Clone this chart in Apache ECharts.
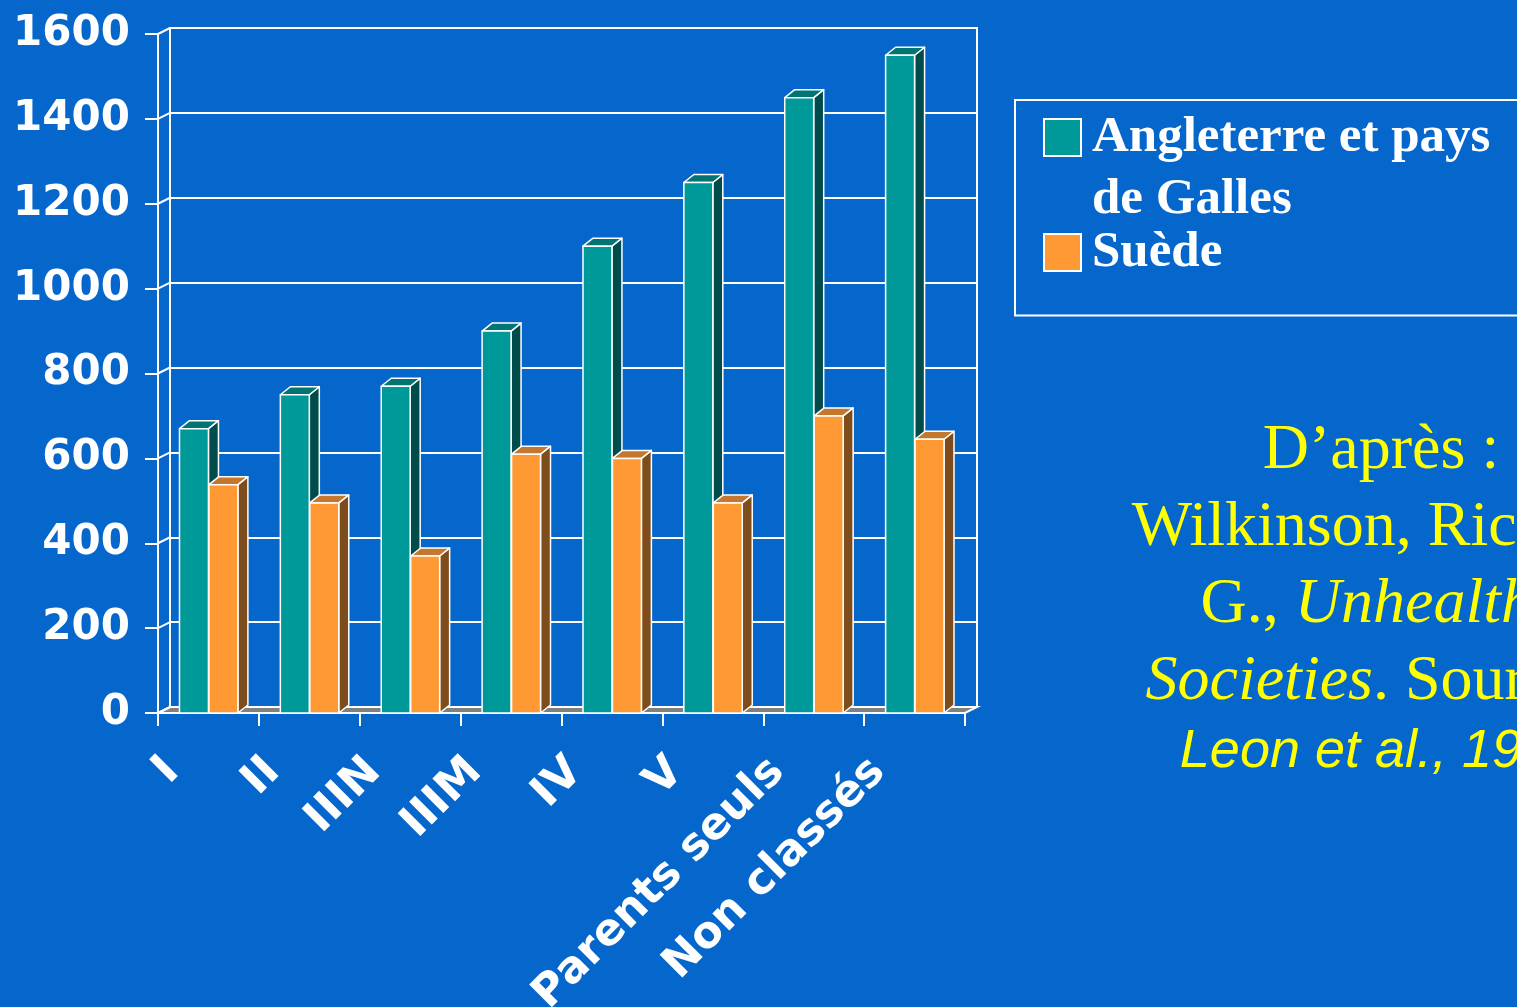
<!DOCTYPE html>
<html><head><meta charset="utf-8">
<script src="https://cdn.jsdelivr.net/npm/echarts@6/dist/echarts.min.js"></script>
<style>html,body{margin:0;padding:0;background:#0566cc;}#c{width:1517px;height:1007px;}</style>
</head><body><div id="c"></div>
<script>
// ---- data ----
const categories = ['I', 'II', 'IIIN', 'IIIM', 'IV', 'V', 'Parents seuls', 'Non classés'];
const englandWales = [670, 750, 770, 900, 1100, 1250, 1450, 1550];
const sweden = [538, 495, 370, 610, 600, 495, 700, 645];
const yTicks = [0, 200, 400, 600, 800, 1000, 1200, 1400, 1600];
const seriesNames = ['Angleterre et pays de Galles', 'Suède'];
const citationLines = [
  '{n|D’après :}',
  '{n|Wilkinson, Richard}',
  '{n|G., }{i|Unhealthy}',
  '{i|Societies}{n|. Source :}',
  '{s|Leon et al., 1992}'
];

// ---- style constants ----
const BG = '#0566cc';
const WALL_DX = 12, WALL_DY = 6;     // depth of back wall
const BAR_DX = 10, BAR_DY = 8;       // depth of bars
const BAR_FRAC = 0.287;              // bar width / band width
const COLORS = [
  { front: '#009999', side: '#004c4c', top: '#007573' },
  { front: '#ff9933', side: '#7f4c1b', top: '#c4772e' }
];
const FRONT = { left: 158, top: 34, width: 807, height: 679 };

function barRenderer(k) {
  return function (params, api) {
    const i = api.value(0), v = api.value(1);
    const t = api.coord([i, v]);
    const b = api.coord([i, 0]);
    const band = api.size([1, 0])[0];
    const bw = band * BAR_FRAC;
    const x0 = k === 0 ? t[0] - bw : t[0] + 0.5;
    const x1 = x0 + bw;
    const st = { stroke: '#ffffff', lineWidth: 1.5, lineJoin: 'round' };
    const c = COLORS[k];
    return {
      type: 'group',
      children: [
        { type: 'polygon', shape: { points: [[x1, t[1]], [x1 + BAR_DX, t[1] - BAR_DY], [x1 + BAR_DX, b[1] - BAR_DY], [x1, b[1]]] },
          style: Object.assign({ fill: c.side }, st) },
        { type: 'polygon', shape: { points: [[x0, t[1]], [x0 + BAR_DX, t[1] - BAR_DY], [x1 + BAR_DX, t[1] - BAR_DY], [x1, t[1]]] },
          style: Object.assign({ fill: c.top }, st) },
        { type: 'rect', shape: { x: x0, y: t[1], width: bw, height: b[1] - t[1] },
          style: Object.assign({ fill: c.front }, st) }
      ]
    };
  };
}

const chart = echarts.init(document.getElementById('c'), null, { renderer: 'canvas' });
const option = {
  backgroundColor: BG,
  animation: false,
  grid: [
    { left: FRONT.left, top: FRONT.top, width: FRONT.width, height: FRONT.height, outerBoundsMode: 'none', show: false },
    { left: FRONT.left + WALL_DX, top: FRONT.top - WALL_DY, width: FRONT.width, height: FRONT.height, outerBoundsMode: 'none',
      show: true, borderColor: '#ffffff', borderWidth: 2, backgroundColor: 'transparent' }
  ],
  xAxis: [
    { type: 'category', gridIndex: 0, data: categories, boundaryGap: true,
      axisLine: { show: true, lineStyle: { color: '#ffffff', width: 2 } },
      axisTick: { show: true, length: 13, lineStyle: { color: '#ffffff', width: 2 } },
      axisLabel: { interval: 0, rotate: 45, margin: 16, padding: [0, 51, 0, 0], color: '#ffffff',
        fontFamily: 'DejaVu Sans', fontWeight: 'bold', fontSize: 44 },
      splitLine: { show: false } },
    { type: 'category', gridIndex: 1, data: categories, boundaryGap: true,
      axisLine: { show: false }, axisTick: { show: false }, axisLabel: { show: false }, splitLine: { show: false } }
  ],
  yAxis: [
    { type: 'value', gridIndex: 0, min: 0, max: 1600, interval: 200,
      axisLine: { show: true, lineStyle: { color: '#ffffff', width: 2 } },
      axisTick: { show: true, length: 13, lineStyle: { color: '#ffffff', width: 2 } },
      axisLabel: { margin: 28, color: '#ffffff', fontFamily: 'DejaVu Sans', fontWeight: 'bold', fontSize: 42,
        padding: [0, 0, 5, 0], formatter: v => yTicks.includes(v) ? String(v) : '' },
      splitLine: { show: false } },
    { type: 'value', gridIndex: 1, min: 0, max: 1600, interval: 200,
      axisLine: { show: false }, axisTick: { show: false }, axisLabel: { show: false },
      splitLine: { show: true, lineStyle: { color: '#ffffff', width: 2 } } }
  ],
  legend: {
    orient: 'vertical', left: 1015, top: 100,
    padding: [4.5, 90, 0, 28],
    itemWidth: 37, itemHeight: 124, itemGap: -43,
    borderColor: '#ffffff', borderWidth: 2,
    selectedMode: false,
    data: [
      { name: seriesNames[0], icon: 'path://M0,12.5L37,12.5L37,49.5L0,49.5Z M0,0 M37,124' },
      { name: seriesNames[1], icon: 'path://M0,43.5L37,43.5L37,80.5L0,80.5Z M0,0 M37,124' }
    ],
    formatter: name => name === seriesNames[0] ? 'Angleterre et pays\nde Galles' : name,
    itemStyle: { borderColor: '#ffffff', borderWidth: 2 },
    textStyle: { color: '#ffffff', fontFamily: 'Liberation Serif', fontWeight: 'bold', fontSize: 51, lineHeight: 62, padding: [4, 0, 0, 6] }
  },
  graphic: [
    { type: 'text', x: 1381, y: 413, silent: true,
      style: {
        text: citationLines.join('\n'),
        align: 'center', verticalAlign: 'top',
        fill: '#ffff00',
        font: '64px "Liberation Serif"',
        rich: {
          n: { fontFamily: 'Liberation Serif', fontSize: 64, lineHeight: 77, fill: '#ffff00', color: '#ffff00', align: 'center' },
          i: { fontFamily: 'Liberation Serif', fontStyle: 'italic', fontSize: 64, lineHeight: 77, fill: '#ffff00', color: '#ffff00', align: 'center' },
          s: { fontFamily: 'Liberation Sans', fontStyle: 'italic', fontSize: 54, lineHeight: 62, fill: '#ffff00', color: '#ffff00', align: 'center' }
        }
      } }
  ],
  series: [
    { // floor
      type: 'custom', xAxisIndex: 0, yAxisIndex: 0, z: 1, silent: true,
      data: [[0, 0]],
      renderItem: function (params, api) {
        const band = api.size([1, 0])[0];
        const a = api.coord([0, 0]);
        const z = api.coord([categories.length - 1, 0]);
        const l = a[0] - band / 2, r = z[0] + band / 2, y = a[1];
        return { type: 'polygon', shape: { points: [[l, y], [r, y], [r + WALL_DX, y - WALL_DY], [l + WALL_DX, y - WALL_DY]] },
          style: { fill: '#808080', stroke: '#ffffff', lineWidth: 2 } };
      }
    },
    { // depth connectors at y ticks
      type: 'custom', xAxisIndex: 0, yAxisIndex: 0, z: 1, silent: true,
      data: yTicks.map(v => [0, v]),
      renderItem: function (params, api) {
        const band = api.size([1, 0])[0];
        const p = api.coord([0, api.value(1)]);
        const l = p[0] - band / 2;
        return { type: 'line', shape: { x1: l, y1: p[1], x2: l + WALL_DX, y2: p[1] - WALL_DY },
          style: { stroke: '#ffffff', lineWidth: 2 } };
      }
    },
    { name: seriesNames[0], type: 'custom', xAxisIndex: 0, yAxisIndex: 0, z: 3,
      itemStyle: { color: COLORS[0].front },
      data: englandWales.map((v, i) => [i, v]),
      encode: { x: 0, y: 1 },
      renderItem: barRenderer(0) },
    { name: seriesNames[1], type: 'custom', xAxisIndex: 0, yAxisIndex: 0, z: 3,
      itemStyle: { color: COLORS[1].front },
      data: sweden.map((v, i) => [i, v]),
      encode: { x: 0, y: 1 },
      renderItem: barRenderer(1) }
  ]
};
chart.setOption(option);
</script>
</body></html>
